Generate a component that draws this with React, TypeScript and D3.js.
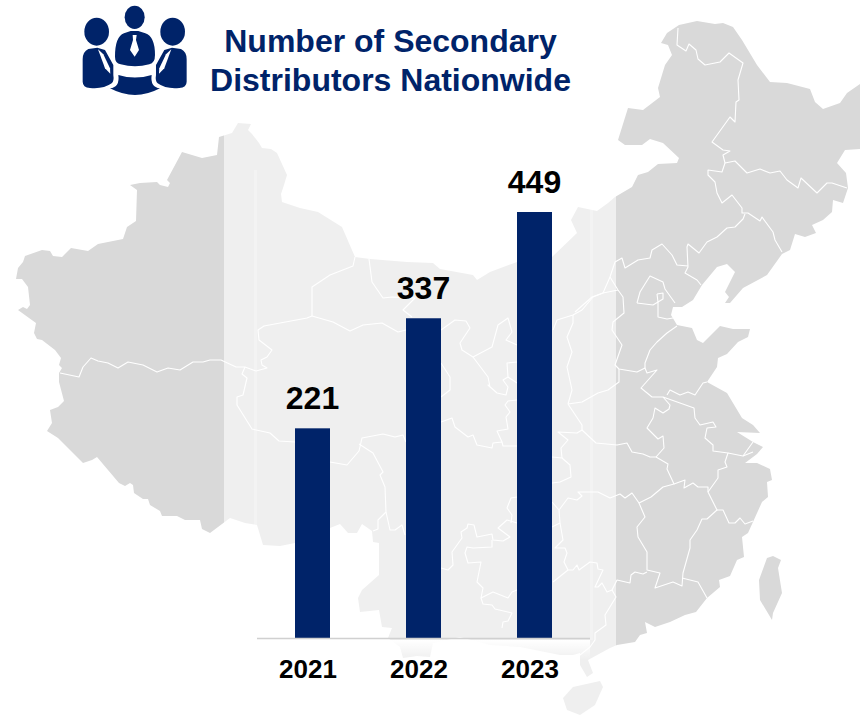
import * as d3 from "d3";

const years = ["2021", "2022", "2023"];
const distributors = [221, 337, 449];
const titleLines = ["Number of Secondary", "Distributors Nationwide"];

type Pt = [number, number];

// background map
const mainland: Pt[] = [
  [238,123],[251,124],[248,130],[252,134],[259,143],[262,148],[271,149],[277,153],[287,175],[284,185],[281,194],[282,202],[300,208],[318,212],[342,227],[355,257],[370,259],[407,262],[433,263],[440,269],[473,275],[477,280],[490,272],[517,262],[552,257],[577,233],[571,220],[578,207],[597,211],[608,203],[615,197],[632,187],[638,175],[648,172],[658,164],[677,163],[679,158],[663,143],[650,139],[642,145],[625,145],[618,140],[628,108],[643,110],[660,97],[658,88],[665,65],[672,55],[668,45],[661,43],[667,33],[679,25],[697,21],[715,24],[723,23],[733,27],[742,40],[757,65],[770,82],[787,83],[810,89],[815,102],[823,109],[840,103],[847,93],[860,84],[862,149],[845,150],[837,163],[846,173],[848,188],[843,203],[833,200],[832,212],[823,220],[812,225],[816,233],[805,237],[795,234],[790,250],[782,254],[767,275],[743,288],[730,303],[725,303],[729,297],[725,292],[735,272],[727,264],[717,267],[702,285],[693,300],[682,307],[673,307],[671,315],[677,325],[692,328],[697,340],[703,343],[720,326],[733,329],[750,329],[748,337],[738,342],[727,354],[718,358],[717,367],[707,382],[727,393],[742,418],[753,425],[760,433],[737,432],[753,442],[763,447],[757,454],[745,463],[757,463],[770,469],[772,480],[767,482],[768,497],[762,502],[748,533],[742,537],[744,557],[737,560],[730,576],[719,580],[720,587],[707,598],[696,612],[685,615],[670,622],[655,627],[645,622],[647,633],[640,635],[635,642],[617,645],[610,648],[588,660],[593,673],[587,677],[580,665],[580,653],[573,655],[560,655],[520,647],[490,645],[460,637],[433,643],[430,657],[417,656],[403,658],[400,647],[388,638],[392,628],[382,627],[379,610],[360,612],[358,598],[362,590],[379,575],[379,543],[373,542],[372,531],[362,524],[357,533],[348,533],[340,524],[330,528],[295,543],[280,546],[263,545],[257,525],[245,523],[230,518],[210,533],[202,529],[200,520],[185,520],[177,516],[162,516],[160,511],[150,505],[148,499],[143,499],[134,493],[133,485],[130,483],[125,486],[119,483],[97,457],[92,460],[83,463],[58,438],[47,431],[52,423],[50,410],[58,407],[64,401],[59,382],[59,373],[62,368],[59,365],[61,358],[55,350],[42,340],[37,339],[34,333],[36,323],[29,318],[18,310],[23,307],[27,309],[30,305],[28,287],[22,279],[16,279],[18,268],[23,262],[25,256],[42,250],[50,251],[53,256],[62,257],[71,248],[88,251],[98,244],[123,239],[127,227],[136,221],[137,190],[130,185],[140,183],[157,182],[160,185],[168,187],[170,183],[167,180],[182,152],[202,158],[217,155],[219,137],[232,133],
];
const taiwan: Pt[] = [[767,558],[773,556],[781,560],[778,568],[782,593],[773,613],[772,620],[760,600],[759,580]];
const hainan: Pt[] = [[600,681],[603,687],[595,705],[580,715],[567,710],[563,698],[573,687]];
const borders: Pt[][] = [
  [[60,373],[79,377],[83,367],[91,358],[98,361],[108,363],[118,368],[128,362],[143,365],[157,372],[168,368],[180,370],[193,362],[203,362],[210,360],[221,360],[236,367],[245,367],[256,371],[267,368],[262,365],[261,360],[267,357],[272,350],[259,340],[258,330],[264,326],[307,318],[312,316],[333,322],[350,331],[363,325],[382,323],[398,332],[406,330]],
  [[312,316],[312,287],[330,275],[353,266],[355,257]],
  [[369,259],[372,282],[383,298],[392,297],[415,298],[403,310],[412,317]],
  [[441,330],[455,320],[466,321],[470,328],[460,343],[462,350],[473,357],[492,347],[498,325],[508,318],[512,332],[506,340],[517,345]],
  [[473,357],[488,377],[490,387],[488,385],[497,393],[506,395],[508,387],[503,380],[508,377],[507,363],[517,362]],
  [[441,363],[450,377],[450,390],[441,397]],
  [[508,377],[517,383]],
  [[553,330],[557,320],[573,315],[582,310],[593,297],[603,293],[610,277]],
  [[573,315],[573,323],[567,337],[572,352],[567,367],[572,390],[568,404]],
  [[245,367],[242,374],[247,378],[243,395],[237,397],[237,405],[252,429],[270,433],[279,441],[295,442]],
  [[330,462],[347,465],[359,451],[362,438],[383,434],[395,437],[403,435],[406,442]],
  [[359,444],[373,453],[383,472],[380,475],[385,487],[386,512],[378,520],[378,529],[373,531]],
  [[386,512],[390,530],[395,530],[402,525],[405,535]],
  [[441,422],[452,418],[455,427],[468,437],[473,435],[477,445],[492,448],[493,443],[502,442],[503,446],[517,446]],
  [[502,442],[497,431],[508,429],[506,417],[510,412],[505,405],[508,401],[517,400]],
  [[441,568],[448,570],[453,565],[452,552],[462,538],[461,532],[467,528],[468,524],[474,525],[477,537],[492,534],[493,540],[503,541],[510,537],[498,528],[507,520],[517,523]],
  [[517,497],[511,498],[507,508],[512,515],[511,523]],
  [[492,540],[492,547],[473,548],[467,547],[465,553],[468,563],[481,562],[477,582],[483,588],[481,598],[493,592],[508,598],[512,592],[517,590]],
  [[481,598],[483,604],[492,605],[495,609],[512,613],[508,621],[503,622],[502,628]],
  [[552,457],[562,458],[570,465],[571,477],[560,482],[552,483]],
  [[552,502],[559,510],[560,523],[552,527]],
  [[559,510],[568,498],[577,500],[582,496],[578,492],[598,492],[610,498],[620,494],[625,498],[632,493],[639,503]],
  [[560,523],[563,540],[555,548],[565,548],[567,553],[564,562],[568,570],[573,570],[577,565],[579,570],[590,562],[597,563],[598,569],[603,570],[595,587],[598,587],[602,583],[607,592],[612,590],[617,580],[630,583],[631,575],[635,572],[643,574],[647,572]],
  [[568,570],[553,582]],
  [[612,590],[616,597],[605,615],[606,625],[595,633],[595,640],[590,647],[580,655]],
  [[568,404],[582,425],[582,430],[577,433],[558,432],[568,440],[561,448],[562,458]],
  [[568,404],[582,402],[598,393],[608,390],[619,382],[619,369]],
  [[582,430],[596,443],[617,445],[627,443],[632,452],[643,454],[650,457],[656,457],[668,464],[667,469],[674,484],[663,487],[651,497],[639,503],[645,517],[637,527],[638,537],[647,552],[647,570],[660,573],[655,588],[673,582],[682,586],[683,573],[690,548],[690,540],[697,530],[702,519],[707,519],[717,510],[708,492],[718,478],[718,470],[727,467],[725,462],[728,453],[713,451],[713,445],[705,438],[707,428],[716,427],[713,422],[700,425],[695,418],[694,408],[680,403],[663,397],[652,397],[641,388],[657,370],[647,373],[645,368],[637,372],[619,369],[615,365],[622,345],[612,330],[613,322],[624,313],[623,297],[618,290],[610,277],[615,262],[622,258],[625,268],[638,260],[650,258],[652,250],[662,244],[672,255],[677,265],[688,266]],
  [[663,397],[670,405],[669,409],[663,413],[655,408],[653,418],[647,428],[658,439],[663,436],[664,448],[656,457]],
  [[674,484],[685,480],[684,488],[693,483],[698,487],[708,487],[708,492]],
  [[728,453],[743,456],[753,442]],
  [[743,456],[753,452]],
  [[667,395],[670,390],[680,395],[688,392],[695,395],[703,383],[707,382]],
  [[717,510],[723,510],[729,523],[735,523],[740,518],[745,524],[753,521]],
  [[682,578],[698,582],[707,598]],
  [[678,28],[677,45],[686,51],[689,44],[696,50],[698,59],[705,65],[720,62],[729,53],[743,63],[738,80],[739,100],[736,102],[735,122],[730,117],[712,142],[723,150],[730,151],[723,155],[725,163],[735,161],[747,173],[760,169],[770,173],[780,171],[787,180],[798,188],[801,178],[817,193],[827,183],[832,183],[847,188]],
  [[725,163],[722,172],[708,170],[708,175],[715,182],[717,193],[722,203],[732,195],[742,208],[742,213],[748,213],[760,221],[762,217],[773,232],[775,240],[782,252]],
  [[745,214],[743,219],[735,227],[727,228],[717,237],[707,242],[699,253],[688,244],[687,247],[688,267],[685,273],[697,280],[701,285]],
  [[637,303],[640,292],[650,276],[663,282],[665,289],[675,303]],
  [[637,303],[653,305],[658,302],[658,317],[667,319],[673,318]],
  [[657,294],[663,293],[663,299],[658,302],[657,294]],
  [[677,326],[667,333],[657,342],[650,350],[645,363],[645,368]],
  [[618,290],[603,293],[592,297],[575,312]],
];

const mapPath = d3.line();

const width = 860;
const height = 716;
const axisY = 638;
const barColor = "#002369";
const titleColor = "#002369";
const fontFamily = "'Liberation Sans', Arial, sans-serif";

const x = d3
  .scaleBand()
  .domain(years)
  .range([257, 590])
  .paddingInner(1 - 35 / 111)
  .paddingOuter((1 - 35 / 111) / 2);
const y = d3.scaleLinear().domain([0, 449]).range([axisY, 212]);

function PeopleIcon() {
  const side = (
    <>
      <ellipse cx={110} cy={95} rx={37} ry={42} />
      <path d="M85,147 Q68,155 68,178 L68,245 Q68,262 90,264 Q130,268 155,250 Q163,243 160,225 L160,195 L135,150 L112,143 Z" />
      <path d="M114,148 L135,205 L151,221 L150,205 L130,163 Z" fill="#fff" />
    </>
  );
  return (
    <g transform="translate(60,0) scale(0.3333)" fill={barColor}>
      {side}
      <g transform="translate(448,0) scale(-1,1)">{side}</g>
      <ellipse cx={224} cy={52} rx={30} ry={35} />
      <path d="M192,100 Q165,110 165,170 Q165,190 182,193 Q225,205 268,193 Q285,190 285,165 Q285,110 256,100 L235,93 L212,93 Z" />
      <path d="M218,105 L230,105 L228,120 L237,150 L224,170 L210,150 L219,120 Z" fill="#fff" />
      <path d="M150,265 Q180,262 175,225 Q225,240 275,225 Q270,262 300,265 Q225,305 150,265 Z" />
    </g>
  );
}

export default function App() {
  return (
    <svg
      width={width}
      height={height}
      viewBox={`0 0 ${width} ${height}`}
      style={{ position: "absolute", left: 0, top: 0, display: "block", background: "#fff" }}
    >
      <defs>
        <linearGradient id="fade" x1="0" y1="0" x2="0" y2="1">
          <stop offset="0" stopColor="#fff" stopOpacity={1} />
          <stop offset="1" stopColor="#fff" stopOpacity={0} />
        </linearGradient>
      </defs>

      <g fill="#d9d9d9">
        <path d={`${mapPath(mainland)}Z`} />
        <path d={`${mapPath(taiwan)}Z`} />
        <path d={`${mapPath(hainan)}Z`} />
      </g>
      <g fill="none" stroke="#fff" strokeWidth={1.1} strokeLinejoin="round">
        {borders.map((line, i) => (
          <path key={i} d={mapPath(line) ?? ""} />
        ))}
      </g>

      <rect x={224} y={0} width={392} height={height} fill="#fff" opacity={0.58} />
      <rect x={254} y={170} width={3} height={470} fill="#fff" opacity={0.25} />
      <rect x={590} y={195} width={3} height={445} fill="#fff" opacity={0.25} />
      <rect x={240} y={640} width={350} height={20} fill="url(#fade)" />

      {years.map((year, i) => (
        <rect
          key={year}
          x={x(year)}
          y={y(distributors[i])}
          width={x.bandwidth()}
          height={axisY - y(distributors[i])}
          fill={barColor}
        />
      ))}
      <line x1={257} x2={590} y1={axisY + 0.5} y2={axisY + 0.5} stroke="#d0d0d0" strokeWidth={1.5} />

      <g fontFamily={fontFamily} fontWeight={700} textAnchor="middle" fill="#000">
        {years.map((year, i) => (
          <text key={year} x={(x(year) ?? 0) + x.bandwidth() / 2} y={y(distributors[i]) - 19} fontSize={32}>
            {distributors[i]}
          </text>
        ))}
        {years.map((year) => (
          <text key={year} x={(x(year) ?? 0) + x.bandwidth() / 2 - 4.5} y={678} fontSize={26}>
            {year}
          </text>
        ))}
      </g>

      <PeopleIcon />
      <g fontFamily={fontFamily} fontWeight={700} textAnchor="middle" fill={titleColor} fontSize={32}>
        {titleLines.map((line, i) => (
          <text key={line} x={390.5} y={52 + i * 39}>
            {line}
          </text>
        ))}
      </g>
    </svg>
  );
}
